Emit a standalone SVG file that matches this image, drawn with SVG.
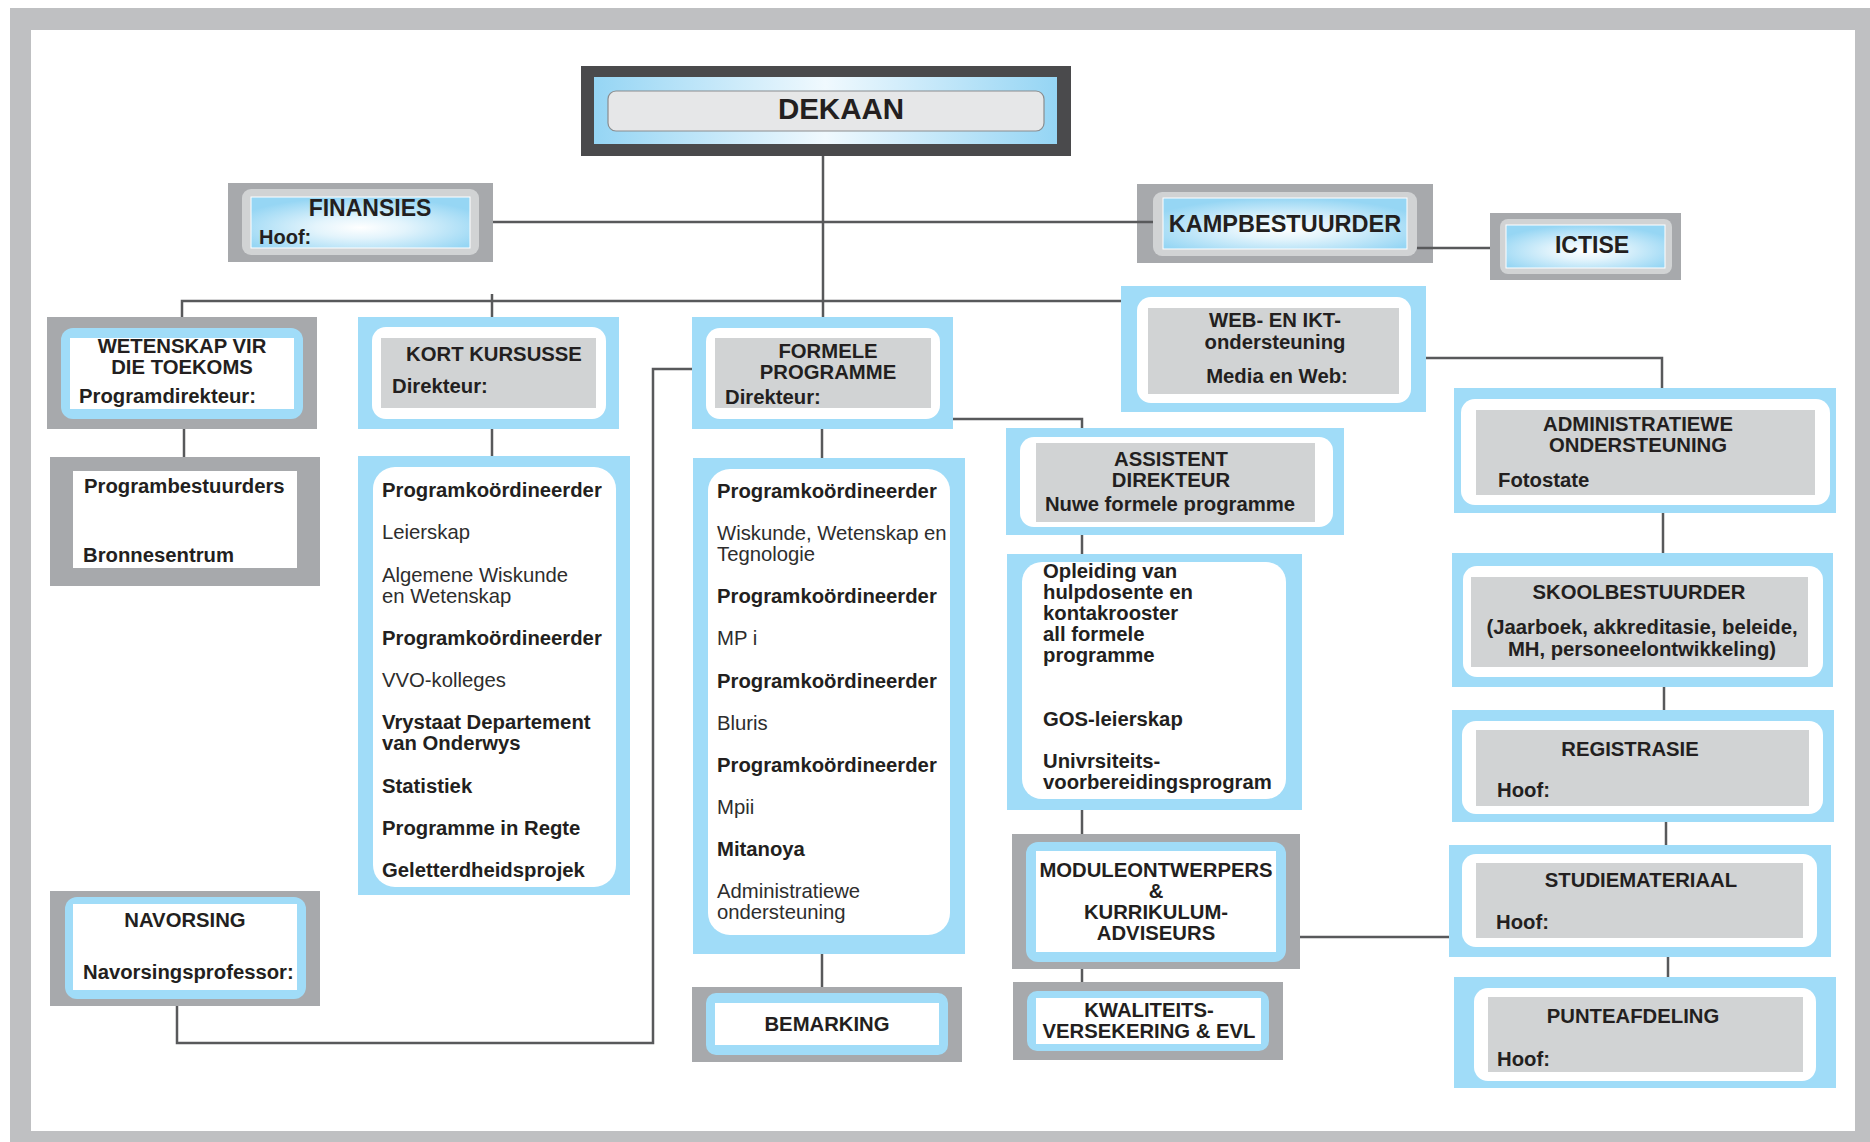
<svg xmlns="http://www.w3.org/2000/svg" width="1870" height="1142" viewBox="0 0 1870 1142">
<defs>
<radialGradient id="glow" cx="0.5" cy="0.6" r="0.6">
<stop offset="0" stop-color="#ffffff"/>
<stop offset="0.35" stop-color="#e3f4fc"/>
<stop offset="1" stop-color="#96d6f4"/>
</radialGradient>
<linearGradient id="band" x1="0" y1="0" x2="1" y2="0">
<stop offset="0" stop-color="#95d5f4"/>
<stop offset="0.5" stop-color="#f0f9fe"/>
<stop offset="1" stop-color="#95d5f4"/>
</linearGradient>
</defs>
<style>
.t{font-family:"Liberation Sans",Arial,Helvetica,sans-serif;fill:#231f20}
.b{font-weight:bold;font-size:20.3px}
.r{font-size:20.3px;fill:#2d2d2d}
.c{text-anchor:middle}
.blue{fill:#a0dcf8}
.gray{fill:#a7a9ac}
.lg{fill:#d1d3d4}
.w{fill:#ffffff}
.conn{stroke:#58595b;stroke-width:2.5;fill:none}
</style>
<rect x="10" y="8" width="1860" height="1134" fill="#bfc0c2"/>
<rect x="31" y="30" width="1824" height="1101" fill="#ffffff"/>

<g id="dekaan">
<rect x="581" y="66" width="490" height="90" fill="#4a4a4c"/>
<rect x="594" y="77" width="463" height="67" fill="url(#band)"/>
<rect x="608" y="91" width="436" height="40" rx="8" fill="#e6e7e8" stroke="#8a8c8e" stroke-width="1.2"/>
<text class="t b c" x="841" y="119" style="font-size:29.5px">DEKAAN</text>
</g>

<g id="finansies">
<rect class="gray" x="228" y="183" width="265" height="79"/>
<rect class="lg" x="242" y="189" width="237" height="66" rx="9"/>
<rect x="251" y="197" width="219" height="51" fill="url(#glow)" stroke="#ffffff" stroke-width="1"/>
<text class="t b c" x="370" y="216" style="font-size:23px">FINANSIES</text>
<text class="t b" x="259" y="244" style="font-size:20px">Hoof:</text>
</g>

<g id="kampbestuurder">
<rect class="gray" x="1137" y="184" width="296" height="79"/>
<rect class="lg" x="1153" y="192" width="264" height="64" rx="9"/>
<rect x="1163" y="198" width="244" height="51" fill="url(#glow)" stroke="#ffffff" stroke-width="1"/>
<text class="t b c" x="1285" y="232" style="font-size:23.5px">KAMPBESTUURDER</text>
</g>

<g id="ictise">
<rect class="gray" x="1490" y="213" width="191" height="67"/>
<rect class="lg" x="1500" y="219" width="172" height="55" rx="8"/>
<rect x="1506" y="225" width="159" height="43" fill="url(#glow)" stroke="#ffffff" stroke-width="1"/>
<text class="t b c" x="1592" y="253" style="font-size:23px">ICTISE</text>
</g>

<g id="wetenskap">
<rect class="gray" x="47" y="317" width="270" height="112"/>
<rect class="blue" x="61" y="328" width="242" height="91" rx="12"/>
<rect class="w" x="70" y="338" width="224" height="71"/>
<text class="t b c" x="182" y="353">WETENSKAP VIR</text>
<text class="t b c" x="182" y="374">DIE TOEKOMS</text>
<text class="t b" x="79" y="403">Programdirekteur:</text>
</g>

<g id="programbestuurders">
<rect class="gray" x="50" y="457" width="270" height="129"/>
<rect class="w" x="73" y="471" width="224" height="97"/>
<text class="t b" x="84" y="493">Programbestuurders</text>
<text class="t b" x="83" y="562">Bronnesentrum</text>
</g>

<g id="kortkursusse">
<rect class="blue" x="358" y="317" width="261" height="112"/>
<rect class="w" x="372" y="327" width="234" height="92" rx="14"/>
<rect class="lg" x="381" y="338" width="215" height="70"/>
<text class="t b c" x="494" y="361">KORT KURSUSSE</text>
<text class="t b" x="392" y="393">Direkteur:</text>
</g>

<g id="kort-lys">
<rect class="blue" x="358" y="456" width="272" height="439"/>
<rect class="w" x="373" y="467" width="243" height="420" rx="22"/>
<text class="t b" x="382" y="497">Programkoördineerder</text>
<text class="t r" x="382" y="539">Leierskap</text>
<text class="t r" x="382" y="582">Algemene Wiskunde</text>
<text class="t r" x="382" y="603">en Wetenskap</text>
<text class="t b" x="382" y="645">Programkoördineerder</text>
<text class="t r" x="382" y="687">VVO-kolleges</text>
<text class="t b" x="382" y="729">Vrystaat Departement</text>
<text class="t b" x="382" y="750">van Onderwys</text>
<text class="t b" x="382" y="793">Statistiek</text>
<text class="t b" x="382" y="835">Programme in Regte</text>
<text class="t b" x="382" y="877">Geletterdheidsprojek</text>
</g>

<g id="formele">
<rect class="blue" x="692" y="317" width="261" height="112"/>
<rect class="w" x="706" y="328" width="234" height="91" rx="14"/>
<rect class="lg" x="715" y="338" width="216" height="70"/>
<text class="t b c" x="828" y="358">FORMELE</text>
<text class="t b c" x="828" y="379">PROGRAMME</text>
<text class="t b" x="725" y="404">Direkteur:</text>
</g>

<g id="formele-lys">
<rect class="blue" x="693" y="458" width="272" height="496"/>
<rect class="w" x="708" y="469" width="242" height="466" rx="22"/>
<text class="t b" x="717" y="498">Programkoördineerder</text>
<text class="t r" x="717" y="540">Wiskunde, Wetenskap en</text>
<text class="t r" x="717" y="561">Tegnologie</text>
<text class="t b" x="717" y="603">Programkoördineerder</text>
<text class="t r" x="717" y="645">MP i</text>
<text class="t b" x="717" y="688">Programkoördineerder</text>
<text class="t r" x="717" y="730">Bluris</text>
<text class="t b" x="717" y="772">Programkoördineerder</text>
<text class="t r" x="717" y="814">Mpii</text>
<text class="t b" x="717" y="856">Mitanoya</text>
<text class="t r" x="717" y="898">Administratiewe</text>
<text class="t r" x="717" y="919">ondersteuning</text>
</g>

<g id="bemarking">
<rect class="gray" x="692" y="987" width="270" height="75"/>
<rect class="blue" x="706" y="993" width="242" height="62" rx="10"/>
<rect class="w" x="715" y="1003" width="224" height="42"/>
<text class="t b c" x="827" y="1031">BEMARKING</text>
</g>

<g id="navorsing">
<rect class="gray" x="50" y="891" width="270" height="115"/>
<rect class="blue" x="65" y="897" width="241" height="102" rx="12"/>
<rect class="w" x="73" y="904" width="224" height="86"/>
<text class="t b c" x="185" y="927">NAVORSING</text>
<text class="t b" x="83" y="979">Navorsingsprofessor:</text>
</g>

<g id="web">
<rect class="blue" x="1121" y="286" width="305" height="126"/>
<rect class="w" x="1137" y="297" width="274" height="106" rx="14"/>
<rect class="lg" x="1148" y="308" width="251" height="86"/>
<text class="t b c" x="1275" y="327">WEB- EN IKT-</text>
<text class="t b c" x="1275" y="349">ondersteuning</text>
<text class="t b c" x="1277" y="383">Media en Web:</text>
</g>

<g id="assistent">
<rect class="blue" x="1006" y="428" width="338" height="107"/>
<rect class="w" x="1020" y="437" width="313" height="90" rx="14"/>
<rect class="lg" x="1036" y="443" width="279" height="79"/>
<text class="t b c" x="1171" y="466">ASSISTENT</text>
<text class="t b c" x="1171" y="487">DIREKTEUR</text>
<text class="t b c" x="1170" y="511">Nuwe formele programme</text>
</g>

<g id="opleiding">
<rect class="blue" x="1007" y="554" width="295" height="256"/>
<rect class="w" x="1022" y="562" width="264" height="237" rx="20"/>
<text class="t b" x="1043" y="578">Opleiding van</text>
<text class="t b" x="1043" y="599">hulpdosente en</text>
<text class="t b" x="1043" y="620">kontakrooster</text>
<text class="t b" x="1043" y="641">all formele</text>
<text class="t b" x="1043" y="662">programme</text>
<text class="t b" x="1043" y="726">GOS-leierskap</text>
<text class="t b" x="1043" y="768">Univrsiteits-</text>
<text class="t b" x="1043" y="789">voorbereidingsprogram</text>
</g>

<g id="moduleontwerpers">
<rect class="gray" x="1012" y="834" width="288" height="135"/>
<rect class="blue" x="1026" y="842" width="260" height="120" rx="12"/>
<rect class="w" x="1036" y="851" width="240" height="101"/>
<text class="t b c" x="1156" y="877">MODULEONTWERPERS</text>
<text class="t b c" x="1156" y="898">&amp;</text>
<text class="t b c" x="1156" y="919">KURRIKULUM-</text>
<text class="t b c" x="1156" y="940">ADVISEURS</text>
</g>

<g id="kwaliteit">
<rect class="gray" x="1013" y="982" width="270" height="78"/>
<rect class="blue" x="1027" y="991" width="242" height="60" rx="10"/>
<rect class="w" x="1036" y="998" width="225" height="46"/>
<text class="t b c" x="1149" y="1017">KWALITEITS-</text>
<text class="t b c" x="1149" y="1038">VERSEKERING &amp; EVL</text>
</g>

<g id="administratiewe">
<rect class="blue" x="1454" y="388" width="382" height="125"/>
<rect class="w" x="1461" y="399" width="369" height="106" rx="14"/>
<rect class="lg" x="1476" y="410" width="339" height="85"/>
<text class="t b c" x="1638" y="431">ADMINISTRATIEWE</text>
<text class="t b c" x="1638" y="452">ONDERSTEUNING</text>
<text class="t b" x="1498" y="487">Fotostate</text>
</g>

<g id="skoolbestuurder">
<rect class="blue" x="1452" y="553" width="381" height="134"/>
<rect class="w" x="1463" y="566" width="360" height="111" rx="14"/>
<rect class="lg" x="1471" y="577" width="337" height="90"/>
<text class="t b c" x="1639" y="599">SKOOLBESTUURDER</text>
<text class="t b c" x="1642" y="634">(Jaarboek, akkreditasie, beleide,</text>
<text class="t b c" x="1642" y="656">MH, personeelontwikkeling)</text>
</g>

<g id="registrasie">
<rect class="blue" x="1452" y="710" width="382" height="112"/>
<rect class="w" x="1462" y="721" width="361" height="93" rx="14"/>
<rect class="lg" x="1476" y="730" width="333" height="76"/>
<text class="t b c" x="1630" y="756">REGISTRASIE</text>
<text class="t b" x="1497" y="797">Hoof:</text>
</g>

<g id="studiemateriaal">
<rect class="blue" x="1449" y="845" width="382" height="112"/>
<rect class="w" x="1462" y="854" width="355" height="93" rx="14"/>
<rect class="lg" x="1476" y="863" width="327" height="75"/>
<text class="t b c" x="1641" y="887">STUDIEMATERIAAL</text>
<text class="t b" x="1496" y="929">Hoof:</text>
</g>

<g id="punteafdeling">
<rect class="blue" x="1454" y="977" width="382" height="111"/>
<rect class="w" x="1474" y="988" width="342" height="93" rx="14"/>
<rect class="lg" x="1488" y="997" width="315" height="75"/>
<text class="t b c" x="1633" y="1023">PUNTEAFDELING</text>
<text class="t b" x="1497" y="1066">Hoof:</text>
</g>

<g id="connectors" class="conn">
<path d="M823 156 V317"/>
<path d="M493 222 H1153"/>
<path d="M1417 248 H1490"/>
<path d="M182 317 V301 H1121"/>
<path d="M492 294 V317"/>
<path d="M184 429 V457"/>
<path d="M492 429 V456"/>
<path d="M822 429 V458"/>
<path d="M822 954 V987"/>
<path d="M953 419 H1082 V428"/>
<path d="M1082 535 V554"/>
<path d="M1082 810 V834"/>
<path d="M1082 969 V982"/>
<path d="M1300 937 H1449"/>
<path d="M1426 358 H1662 V388"/>
<path d="M1663 513 V553"/>
<path d="M1664 687 V710"/>
<path d="M1666 822 V845"/>
<path d="M1668 957 V977"/>
<path d="M177 1006 V1043 H653 V369 H692"/>
</g>
</svg>
